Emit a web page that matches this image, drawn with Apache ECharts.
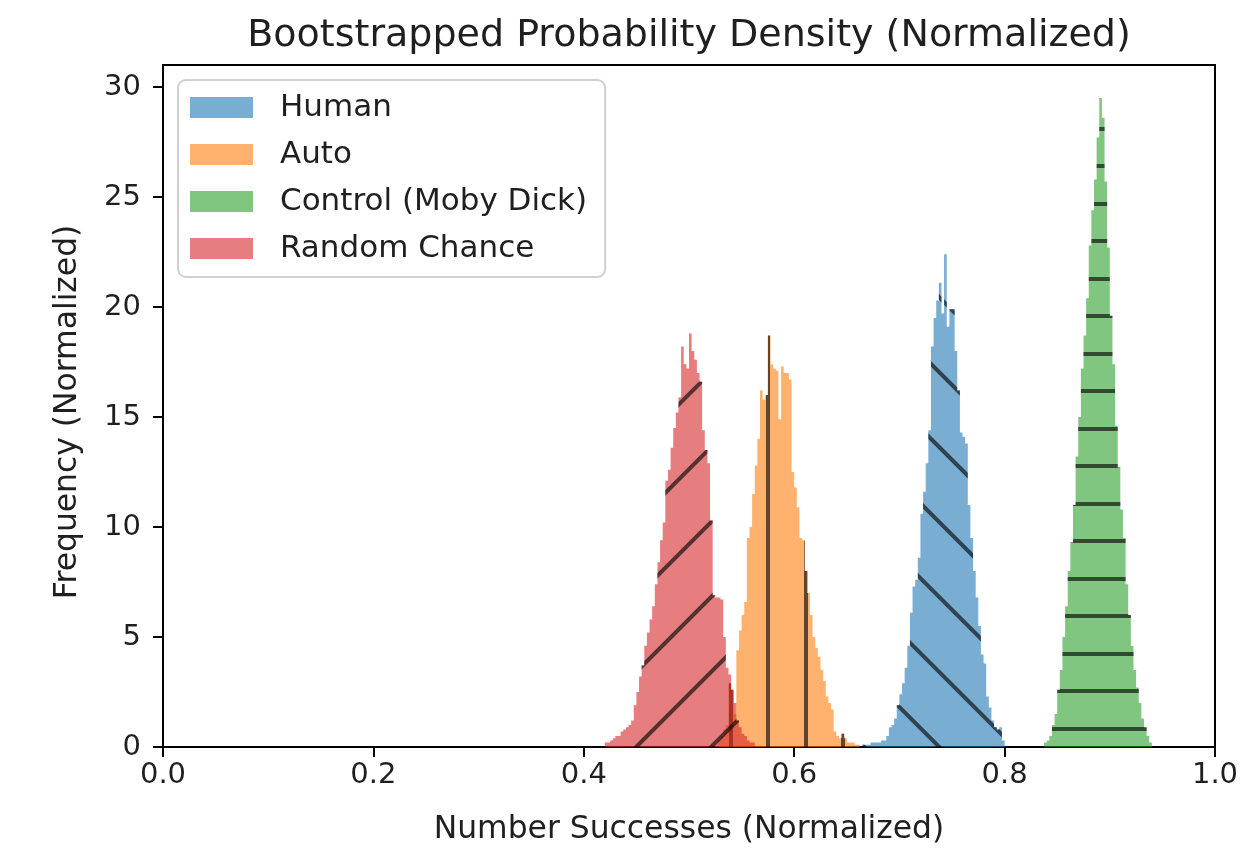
<!DOCTYPE html>
<html>
<head>
<meta charset="utf-8">
<script src="https://cdn.jsdelivr.net/npm/echarts@6/dist/echarts.min.js"></script>
<style>
html,body{margin:0;padding:0;background:#ffffff;}
#chart{width:1259px;height:852px;}
</style>
</head>
<body>
<div id="chart"></div>
<script>
// ---- data (bin heights, left edges = start + i*binWidth) ----
const binWidth = 0.0025;

const seriesNames = ['Human', 'Auto', 'Control (Moby Dick)', 'Random Chance'];

const humanStart = 0.665;
const humanValues = [0.1,0.1,0.1,0.2,0.2,0.2,0.2,0.3,0.3,0.5,
  0.9,1.0,1.3,1.9,2.4,2.9,3.6,4.6,6.1,7.3,
  7.6,8.6,10.6,11.6,12.9,14.4,18.2,19.5,20.3,21.1,
  19.7,22.4,19.1,19.9,19.9,18.0,16.2,14.3,14.1,13.8,
  11.0,9.5,8.0,6.8,5.5,4.2,3.8,2.3,1.8,1.2,
  0.9,0.8,0.9,0.3];

const autoStart = 0.5275;
const autoValues = [0.3,0.5,0.8,1.0,2.9,2.6,1.5,4.4,5.3,6.0,
  6.6,9.5,10.0,11.5,12.8,14.0,16.2,15.8,16.0,18.7,
  17.4,17.2,17.1,14.9,17.3,17.0,17.0,16.7,12.5,11.8,
  10.9,9.5,9.4,8.0,7.0,6.0,5.0,4.5,4.1,3.5,
  3.0,2.3,2.0,1.7,0.7,0.5,0.4,0.6,0.4,0.2,
  0.2,0.2,0.1,0.1];

const controlStart = 0.8375;
const controlValues = [0.2,0.3,0.5,1.0,1.5,2.6,3.5,5.0,6.4,8.0,
  9.3,11.0,13.2,15.0,17.2,18.7,20.4,22.8,24.4,25.8,
  27.7,29.5,28.6,25.7,22.7,19.6,17.4,14.6,12.7,10.8,
  9.5,7.4,6.0,4.6,3.5,2.7,2.0,1.3,0.9,0.5,
  0.2];

const randomStart = 0.42;
const randomValues = [0.2,0.2,0.3,0.4,0.5,0.5,0.7,0.8,0.9,1.0,
  1.2,1.9,2.5,3.2,3.7,4.6,5.2,5.8,6.4,7.4,
  8.4,9.4,10.2,12.1,12.6,13.6,14.5,15.2,15.9,18.2,
  17.4,17.2,18.8,18.0,17.6,17.0,16.6,14.4,13.5,12.9,
  10.3,6.9,6.8,6.8,6.7,5.0,3.6,3.3,2.6,2.0,
  1.2,0.9,0.6,0.5,0.3,0.2,0.2];

const xTickValues = [0, 0.2, 0.4, 0.6, 0.8, 1.0];
const yTickValues = [0, 5, 10, 15, 20, 25, 30];

// ---- styles ----
const colors = ['rgba(31,119,180,0.6)', 'rgba(255,127,14,0.6)', 'rgba(44,160,44,0.6)', 'rgba(214,39,40,0.6)'];
const hatchColor = 'rgba(0,0,0,0.62)';
function hatch(dashY, rotation) {
  return { symbol: 'rect', symbolSize: 1, symbolKeepAspect: false, color: hatchColor,
           dashArrayX: [[20, 0]], dashArrayY: dashY, rotation: rotation };
}
const hatches = [
  hatch([0, 21, 4, 28], Math.PI / 4),          // '\\'
  hatch([0, 17, 4, 34, 4, 16], Math.PI / 2),   // '|'
  hatch([0, 14, 4, 34, 4, 19], 0),             // '-'
  hatch([0, 22, 4, 27], -Math.PI / 4)          // '/'
];
const font = 'DejaVu Sans';
const textColor = '#1f1f1f';

function stepData(start, values) {
  const pts = values.map((v, i) => [+(start + i * binWidth).toFixed(5), v]);
  pts.push([+(start + values.length * binWidth).toFixed(5), 0]);
  return pts;
}

function histSeries(idx, start, values) {
  return {
    name: seriesNames[idx],
    type: 'line',
    step: 'end',
    data: stepData(start, values),
    showSymbol: false,
    symbol: 'none',
    silent: true,
    animation: false,
    lineStyle: { width: 0, color: colors[idx] },
    itemStyle: { color: colors[idx], decal: hatches[idx] },
    areaStyle: { color: colors[idx], opacity: 1 },
    emphasis: { disabled: true },
    z: 2
  };
}

const chart = echarts.init(document.getElementById('chart'), null, { renderer: 'canvas' });

const option = {
  animation: false,
  backgroundColor: '#ffffff',
  title: {
    text: 'Bootstrapped Probability Density (Normalized)',
    left: 689,
    top: 17,
    textAlign: 'center',
    padding: 0,
    textStyle: { fontFamily: font, fontSize: 38, fontWeight: 'normal', color: textColor }
  },
  legend: {
    orient: 'vertical',
    left: 178,
    top: 80,
    padding: [12, 18, 13, 12],
    itemWidth: 63,
    itemHeight: 21,
    itemGap: 16,
    backgroundColor: 'rgba(255,255,255,0.85)',
    borderColor: '#d0d0d0',
    borderWidth: 2,
    borderRadius: 8,
    selectedMode: false,
    textStyle: { fontFamily: font, fontSize: 31, color: textColor, padding: [0, 0, 0, 22] },
    data: seriesNames.map((n, i) => ({
      name: n,
      icon: 'rect',
      itemStyle: { color: colors[i], borderWidth: 0, decal: { color: 'rgba(0,0,0,0)', dashArrayX: 5, dashArrayY: 5 } }
    }))
  },
  grid: {
    left: 163, top: 65, right: 44, bottom: 105,
    show: true, borderColor: '#000', borderWidth: 2,
    containLabel: false, outerBoundsMode: 'none'
  },
  xAxis: {
    type: 'value',
    min: 0, max: 1, interval: 0.2,
    name: 'Number Successes (Normalized)',
    nameLocation: 'middle',
    nameGap: 67,
    nameTextStyle: { fontFamily: font, fontSize: 31.4, color: textColor },
    axisLine: { show: true, onZero: false, lineStyle: { color: '#000', width: 2 } },
    axisTick: { show: true, inside: false, length: 10, lineStyle: { color: '#000', width: 2 }, customValues: xTickValues },
    axisLabel: { fontFamily: font, fontSize: 29, color: textColor, margin: 14, customValues: xTickValues, formatter: v => v.toFixed(1) },
    splitLine: { show: false }
  },
  yAxis: {
    type: 'value',
    min: 0, max: 31, interval: 5,
    name: 'Frequency (Normalized)',
    nameLocation: 'middle',
    nameGap: 80,
    nameRotate: 90,
    nameTextStyle: { fontFamily: font, fontSize: 31.4, color: textColor, padding: [0, 12, 0, 0] },
    axisLine: { show: true, lineStyle: { color: '#000', width: 2 } },
    axisTick: { show: true, inside: false, length: 10, lineStyle: { color: '#000', width: 2 }, customValues: yTickValues },
    axisLabel: { fontFamily: font, fontSize: 29, color: textColor, margin: 22, customValues: yTickValues },
    splitLine: { show: false }
  },
  series: [
    histSeries(0, humanStart, humanValues),
    histSeries(1, autoStart, autoValues),
    histSeries(2, controlStart, controlValues),
    histSeries(3, randomStart, randomValues)
  ]
};

chart.setOption(option);
</script>
</body>
</html>
